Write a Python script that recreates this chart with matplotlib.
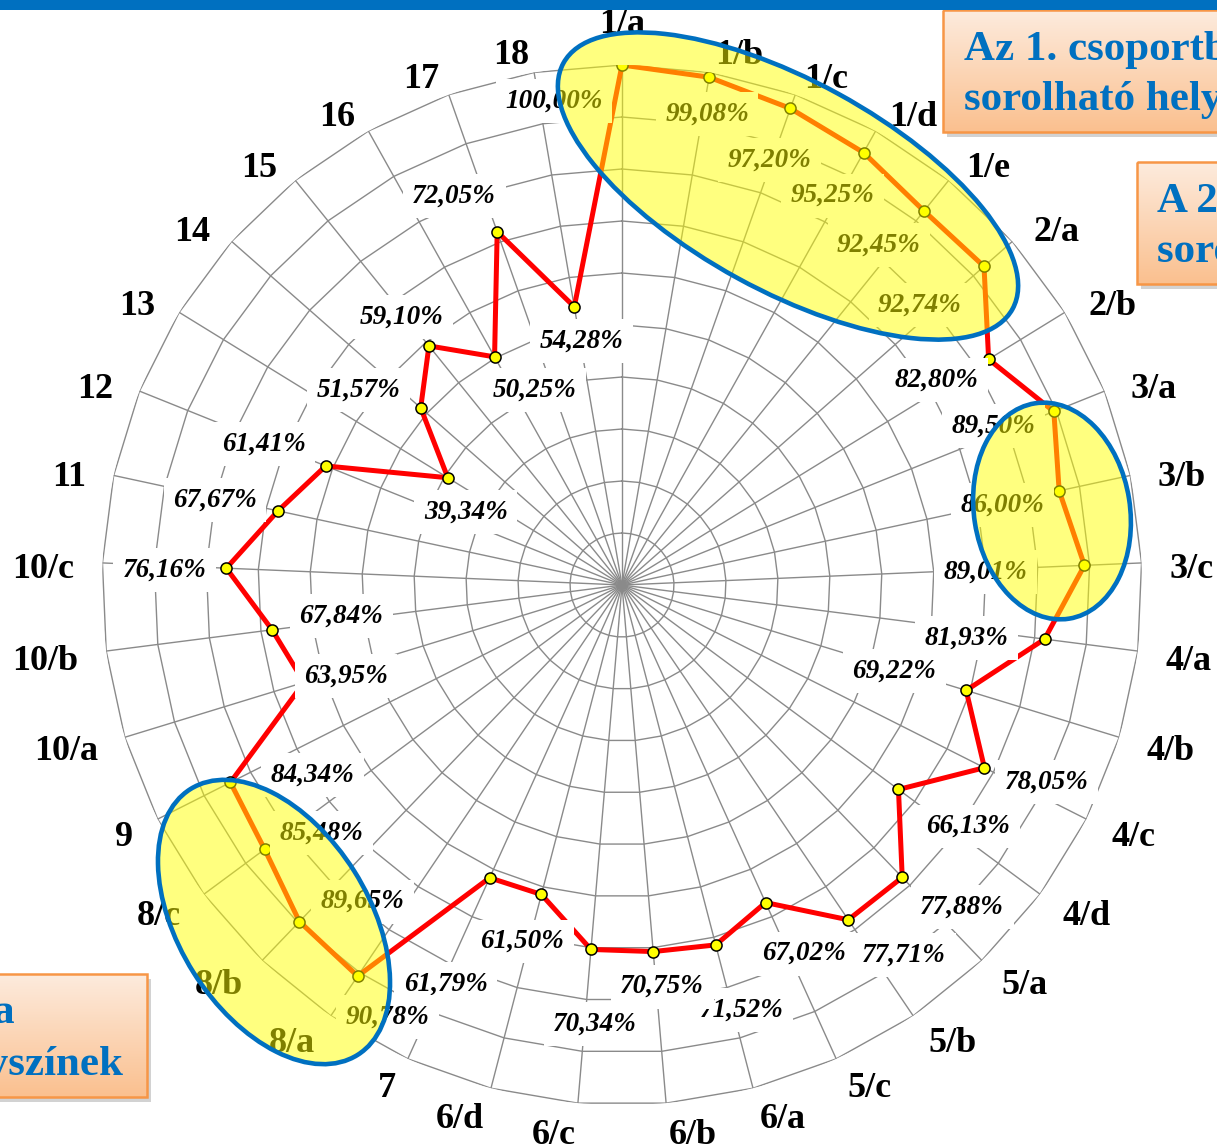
import numpy as np
import matplotlib
matplotlib.use('Agg')
import matplotlib.pyplot as plt
from matplotlib.patches import Ellipse, Rectangle
from matplotlib.colors import LinearSegmentedColormap

# helyszínek és a hozzájuk tartozó százalékos értékek
categories = ['1/a', '1/b', '1/c', '1/d', '1/e', '2/a', '2/b', '3/a', '3/b', '3/c',
              '4/a', '4/b', '4/c', '4/d', '5/a', '5/b', '5/c', '6/a', '6/b', '6/c',
              '6/d', '7', '8/a', '8/b', '8/c', '9', '10/a', '10/b', '10/c', '11',
              '12', '13', '14', '15', '16', '17', '18']
values = [100.00, 99.08, 97.20, 95.25, 92.45, 92.74, 82.80, 89.50, 86.00, 89.01,
          81.93, 69.22, 78.05, 66.13, 77.88, 77.71, 67.02, 71.52, 70.75, 70.34,
          61.50, 61.79, 90.78, 89.65, 85.48, 84.34, 63.95, 67.84, 76.16, 67.67,
          61.41, 39.34, 51.57, 59.10, 50.25, 72.05, 54.28]

# label offsets from their point, in pixels (right, down)
label_offsets = [(-68, 36), (-2, 37), (-21, 52), (-31, 43), (-45, 34), (-64, 39),
                 (-52, 21), (-60, 15), (-57, 14), (-99, 7), (-78, -1), (-72, -19),
                 (62, 14), (70, 37), (60, 30), (56, 35), (38, 51), (26, 65),
                 (9, 35), (4, 75), (-19, 47), (-44, 106), (30, 41), (63, -20),
                 (57, -16), (82, -7), (42, -6), (69, -14), (-62, 2), (-63, -11),
                 (-62, -22), (18, 34), (-62, -18), (-27, -29), (40, 33), (-43, -36),
                 (7, 34)]

W, H = 1217, 1148
BLUE = '#0070C0'
serif = 'Liberation Serif'

fig = plt.figure(figsize=(W / 100, H / 100), dpi=100)
ax = fig.add_axes([102 / W, 43 / H, 1040 / W, 1040 / H], projection='polar')
ax.set_zorder(1)
ax.set_theta_zero_location('N')
ax.set_theta_direction(-1)
ax.set_ylim(0, 100)
ax.grid(False)
ax.spines['polar'].set_visible(False)
ax.set_xticks([])
ax.set_yticks([])

n = len(categories)
theta = np.linspace(0, 2 * np.pi, n, endpoint=False)
theta_closed = np.append(theta, theta[0])

# polygon grid
grid_col = '#8a8a8a'
for r in range(10, 101, 10):
    ax.plot(theta_closed, [r] * (n + 1), color=grid_col, lw=1.0, zorder=1)
for t in theta:
    ax.plot([t, t], [0, 100], color=grid_col, lw=1.0, zorder=1)

ax.plot(theta_closed, values + [values[0]], color='#FF0000', lw=3.6,
        solid_joinstyle='round', zorder=3)
ax.plot(theta, values, 'o', ms=8, mfc='#FFFF00', mec='black', mew=1.1, zorder=4)

for i, v in enumerate(values):
    dx, dy = label_offsets[i]
    txt = f'{v:.2f}'.replace('.', ',') + '%'
    ax.annotate(txt, xy=(theta[i], v), xytext=(dx, -dy), textcoords='offset pixels',
                ha='center', va='center', fontsize=19.5, family=serif,
                fontweight='bold', fontstyle='italic', zorder=5,
                annotation_clip=False,
                bbox=dict(boxstyle='square,pad=0.35', fc='white', ec='none'))

# category labels: anchored on a circle outside the outer ring,
# left-aligned on the right half, right-aligned on the left half
for i, cat in enumerate(categories):
    s, c = np.sin(theta[i]), np.cos(theta[i])
    if abs(s) < 1e-6:
        ha, va, r = 'center', 'baseline', 106.2
        shift = 0
    else:
        ha = 'left' if s > 0 else 'right'
        va, r = 'center', 105.4
        shift = -(7.5 + 3.5 * c)
    ax.annotate(cat, xy=(theta[i], r), xytext=(0, shift), textcoords='offset pixels',
                ha=ha, va=va, fontsize=26, family=serif, fontweight='bold',
                annotation_clip=False, zorder=5)

# overlay in pixel coordinates for highlights and boxes
ov = fig.add_axes([0, 0, 1, 1], zorder=2)
ov.axis('off')

for cx, cy, w, h, ang in [(788, 186, 512, 210, 28.7),
                          (1052, 511, 218, 156, 81),
                          (274, 922, 314, 190, 57.8)]:
    ov.add_patch(Ellipse((cx, cy), w, h, angle=ang, fc=(1, 1, 0, 0.5),
                         ec=BLUE, lw=3.3, zorder=2))

grad_cmap = LinearSegmentedColormap.from_list('peach', ['#FDEBDD', '#FAC08F'])
grad = np.linspace(0, 1, 100).reshape(-1, 1)
for x0, y0, x1, y1 in [(943, 10, 1280, 132), (1137, 162, 1280, 284), (-60, 974, 147, 1097)]:
    ov.add_patch(Rectangle((x0 + 4, y0 + 5), x1 - x0, y1 - y0, fc='#7f7f7f',
                           ec='none', alpha=0.35, zorder=3))
    ov.imshow(grad, extent=(x0, x1, y1, y0), cmap=grad_cmap, aspect='auto',
              zorder=4, interpolation='bilinear')
    ov.add_patch(Rectangle((x0, y0), x1 - x0, y1 - y0, fc='none', ec='#F79646',
                           lw=1.8, zorder=5))

box_font = dict(fontsize=31, family=serif, fontweight='bold', color=BLUE,
                va='baseline', zorder=6)
ov.text(964, 60, 'Az 1. csoportba', ha='left', **box_font)
ov.text(964, 110, 'sorolható helyszínek', ha='left', **box_font)
ov.text(1157, 212, 'A 2. csoportba', ha='left', **box_font)
ov.text(1157, 262, 'sorolható helyszínek', ha='left', **box_font)
ov.text(15, 1023, 'A 3. csoportba', ha='right', **box_font)
ov.text(123, 1075, 'sorolható helyszínek', ha='right', **box_font)

ov.add_patch(Rectangle((0, 0), W, 10, fc=BLUE, ec='none', zorder=10))

ov.set_xlim(0, W)
ov.set_ylim(H, 0)

fig.savefig('out.png', dpi=100)
